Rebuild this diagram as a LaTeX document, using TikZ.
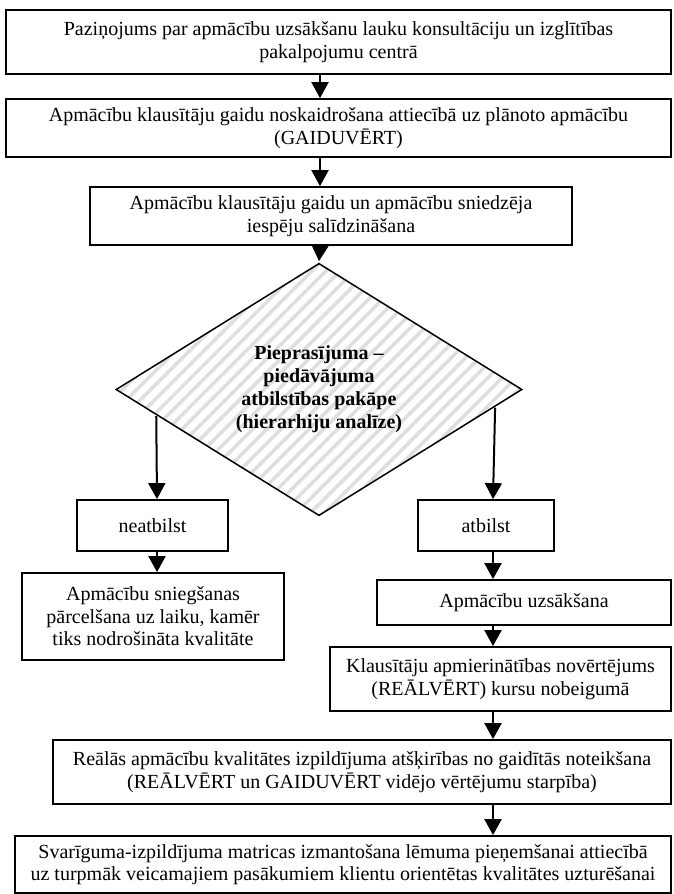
\documentclass[tikz,border=0pt]{standalone}
\usepackage{fontspec}
\setmainfont{Liberation Serif}
\usetikzlibrary{shapes.geometric,arrows.meta,calc,patterns.meta}

\begin{document}
\begin{tikzpicture}[x=1pt,y=-1pt,
  every node/.style={font=\fontsize{20}{22.5}\selectfont, align=center, inner sep=0pt},
  flowbox/.style={draw, line width=1.8pt, fill=white},
  decision/.style={diamond, draw, line width=1.5pt,
    pattern={Lines[angle=45,distance=10pt,line width=3.5pt]}, pattern color=black!13,
    font=\fontsize{20}{23}\selectfont\bfseries},
  arr/.style={line width=2pt, -{Triangle[width=17pt,length=16pt]}}]

\useasboundingbox (0,0) rectangle (673,894);

% column positions of the vertical connectors
\coordinate (mcol) at (320,0);
\coordinate (lcol) at (157,0);
\coordinate (rcol) at (493,0);

\node[flowbox, minimum width=665pt, minimum height=64pt] (b1) at (338.5,42)
  {Paziņojums par apmācību uzsākšanu lauku konsultāciju un izglītības\\pakalpojumu centrā};
\node[flowbox, minimum width=665pt, minimum height=58pt] (b2) at (338.5,128)
  {Apmācību klausītāju gaidu noskaidrošana attiecībā uz plānoto apmācību\\(GAIDUVĒRT)};
\node[flowbox, minimum width=482pt, minimum height=58pt] (b3) at (331,216)
  {Apmācību klausītāju gaidu un apmācību sniedzēja\\iespēju salīdzināšana};

\node[decision, minimum width=407pt, minimum height=245pt] (dia) at (319,389.5)
  {Pieprasījuma –\\piedāvājuma\\atbilstības pakāpe\\(hierarhiju analīze)};

\node[flowbox, minimum width=151pt, minimum height=51pt] (neat) at (152.5,525.5) {neatbilst};
\node[flowbox, minimum width=136pt, minimum height=51pt] (atb) at (486,525.5) {atbilst};

\node[flowbox, minimum width=262pt, minimum height=87pt] (post) at (153,616.5)
  {Apmācību sniegšanas\\pārcelšana uz laiku, kamēr\\tiks nodrošināta kvalitāte};
\node[flowbox, minimum width=294pt, minimum height=45pt] (start) at (524,602.5)
  {Apmācību uzsākšana};
\node[flowbox, minimum width=341pt, minimum height=64pt] (eval) at (500.5,679)
  {Klausītāju apmierinātības novērtējums\\(REĀLVĒRT) kursu nobeigumā};
\node[flowbox, minimum width=618pt, minimum height=64pt] (gap) at (362,772)
  {Reālās apmācību kvalitātes izpildījuma atšķirības no gaidītās noteikšana\\(REĀLVĒRT un GAIDUVĒRT vidējo vērtējumu starpība)};
\node[flowbox, minimum width=656pt, minimum height=57pt] (matrix) at (343,864.5)
  {Svarīguma-izpildījuma matricas izmantošana lēmuma pieņemšanai attiecībā\\uz turpmāk veicamajiem pasākumiem klientu orientētas kvalitātes uzturēšanai};

% connectors
\draw[arr] (b1.south -| mcol) -- (b2.north -| mcol);
\draw[arr] (b2.south -| mcol) -- (b3.north -| mcol);
\draw[arr] (b3.south -| mcol) -- (dia.north);
\draw[arr] ($(dia.west)!0.207!(dia.south)$) -- (neat.north -| lcol);
\draw[arr] ($(dia.east)!0.142!(dia.south)$) -- (atb.north -| rcol);
\draw[arr] (neat.south -| lcol) -- (post.north -| lcol);
\draw[arr] (atb.south -| rcol) -- (start.north -| rcol);
\draw[arr] (start.south -| rcol) -- (eval.north -| rcol);
\draw[arr] (eval.south -| rcol) -- (gap.north -| rcol);
\draw[arr] (gap.south -| rcol) -- (matrix.north -| rcol);
\end{tikzpicture}
\end{document}
